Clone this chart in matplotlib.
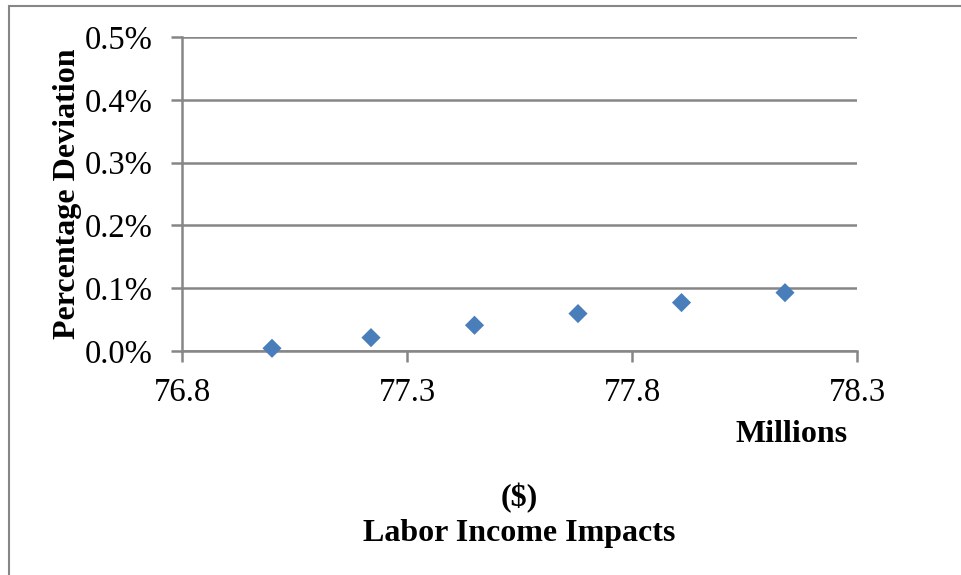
import matplotlib.pyplot as plt
from matplotlib.patches import Rectangle
from matplotlib.ticker import FuncFormatter

plt.rcParams["font.family"] = ["Liberation Serif", "DejaVu Serif"]

# labor income impacts, millions of dollars
renda = [77.00, 77.22, 77.45, 77.68, 77.91, 78.14]
# percentage deviation (%)
desvio = [0.0043, 0.0213, 0.041, 0.0596, 0.0771, 0.0929]

x_ticks = [76.8, 77.3, 77.8, 78.3]
y_ticks = [0.0, 0.1, 0.2, 0.3, 0.4, 0.5]

cinza = "#868686"

fig = plt.figure(figsize=(9.61, 5.75), dpi=100)
fig.patches.append(Rectangle((9 / 961, -0.1), 1.2, 1 - 6 / 575 + 0.1,
                             transform=fig.transFigure, fill=False,
                             edgecolor=cinza, linewidth=1.5))

ax = fig.add_axes([182 / 961, 1 - 351 / 575, (857 - 182) / 961, (351 - 37) / 575])

ax.scatter(renda, desvio, marker="D", s=95, color="#4a7ebb",
           edgecolors="none", zorder=3, clip_on=False)

ax.set_xlim(76.8, 78.3)
ax.set_ylim(0, 0.5)
ax.set_xticks(x_ticks)
ax.set_yticks(y_ticks)
ax.xaxis.set_major_formatter(FuncFormatter(lambda v, p: f"{v:.1f}"))
ax.yaxis.set_major_formatter(FuncFormatter(lambda v, p: f"{v:.1f}%"))

ax.grid(axis="y", color=cinza, linewidth=1.8)
ax.set_axisbelow(True)
for lado in ["top", "right"]:
    ax.spines[lado].set_visible(False)
for lado in ["left", "bottom"]:
    ax.spines[lado].set_color(cinza)
    ax.spines[lado].set_linewidth(1.8)

ax.tick_params(axis="both", colors=cinza, width=1.8, length=8,
               labelcolor="black", labelsize=23.5)
ax.tick_params(axis="x", pad=11)
ax.tick_params(axis="y", pad=13)

ax.set_ylabel("Percentage Deviation", fontsize=23, fontweight="bold", labelpad=2)

fig.text(848 / 961, 1 - 434 / 575, "Millions", ha="right", va="center",
         fontsize=23, fontweight="bold")
fig.text(519 / 961, 1 - 498 / 575, "($)", ha="center", va="center",
         fontsize=23, fontweight="bold")
fig.text(519 / 961, 1 - 533 / 575, "Labor Income Impacts", ha="center", va="center",
         fontsize=23, fontweight="bold")

plt.savefig("out.png", dpi=100)
plt.close()
